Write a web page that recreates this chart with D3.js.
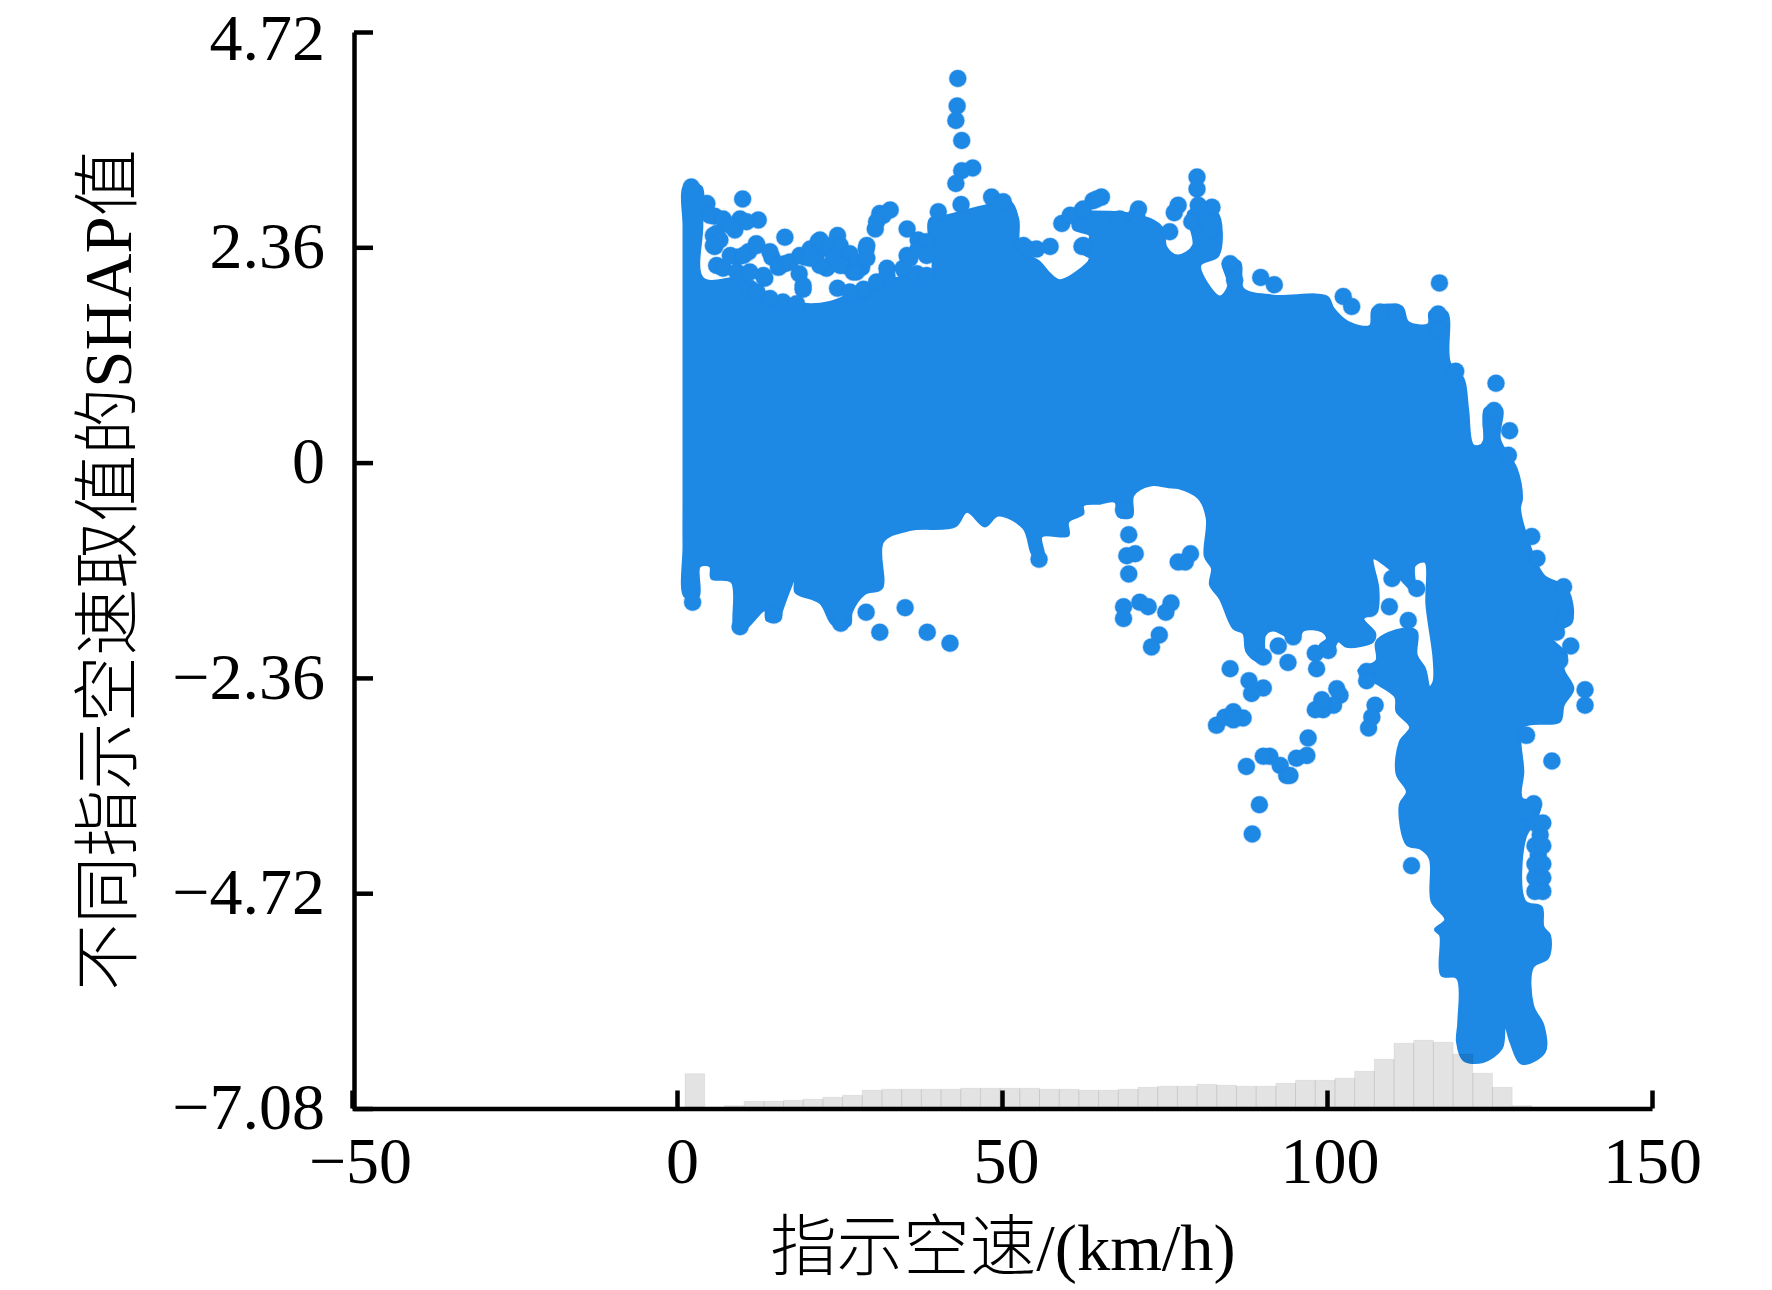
<!DOCTYPE html>
<html>
<head>
<meta charset="utf-8">
<script src="https://cdn.jsdelivr.net/npm/d3@7"></script>
<style>
	html, body { margin: 0; padding: 0; background: #fff; }
	svg { display: block; }
	text { font-family: "Liberation Serif", "Noto Sans CJK SC", serif; fill: #000; }
</style>
</head>
<body>
<div id="chart"></div>
<script>
const xTicks = [-50, 0, 50, 100, 150];
const yTicks = [-7.08, -4.72, -2.36, 0, 2.36, 4.72];
const xTitle = "指示空速/(km/h)";
const yTitle = "不同指示空速取值的SHAP值";

// outline of the part of the cloud where the points merge into a solid mass
const coreSpeed = [1.0,2.4,3.8,3.9,4.0,10.2,13.3,19.4,23.5,29.2,32.3,38.9,38.9,41.5,47.6,51.2,52.5,52.8,55.8,57.4,58.9,61.5,63.5,62.5,63.5,61.0,61.2,66.6,72.8,74.8,75.3,77.0,79.4,78.7,83.0,83.3,80.5,83.5,84.8,84.0,86.6,87.1,91.7,100.0,101.0,103.3,106.6,107.1,111.5,112.5,115.6,115.8,118.4,118.9,121.0,121.7,122.5,124.0,124.3,126.9,126.6,129.2,130.0,129.7,130.7,133.3,136.9,137.6,134.3,136.9,136.4,137.9,136.4,135.8,130.2,130.2,130.0,132.8,132.3,130.5,130.5,133.0,133.3,134.3,134.0,131.7,131.7,133.3,133.5,130.0,128.2,127.4,126.9,124.0,121.0,120.0,120.2,120.0,117.6,117.4,116.6,118.2,116.1,115.8,114.3,112.3,111.2,112.3,110.7,111.2,112.8,110.7,110.5,107.1,104.8,107.6,107.6,111.7,113.8,113.8,115.1,115.8,116.4,116.4,115.3,115.1,113.5,113.5,111.2,109.2,107.1,107.9,107.6,105.6,107.4,107.1,103.0,101.7,100.5,98.9,100.0,99.2,96.4,95.3,93.8,91.7,90.5,90.2,89.2,87.6,87.1,85.6,83.5,82.0,82.3,81.2,81.5,80.2,77.1,75.6,72.8,70.2,70.0,67.9,67.4,65.1,62.5,62.5,60.2,60.2,56.1,56.4,54.8,53.3,49.4,47.4,44.6,42.8,35.8,31.7,31.5,28.9,26.9,26.6,24.0,22.0,18.2,18.2,16.1,15.8,13.8,13.5,10.2,8.9,8.4,5.3,5.1,3.5,3.3,1.2,1.0,1.0,1.0,1.0,1.0,1.0];
const coreShap = [3.02,3.05,3.02,2.6,2.02,2.02,1.87,1.74,1.76,1.93,2.02,2.05,2.67,2.71,2.82,2.86,2.67,2.34,2.20,2.07,2.00,2.09,2.24,2.29,2.49,2.56,2.71,2.75,2.67,2.56,2.36,2.27,2.38,2.75,2.75,2.27,2.16,1.82,1.94,2.20,2.20,1.91,1.83,1.82,1.69,1.54,1.50,1.69,1.71,1.54,1.52,1.65,1.65,1.10,0.92,0.59,0.19,0.21,0.59,0.59,0.26,-0.07,-0.39,-0.50,-0.80,-1.23,-1.38,-1.75,-1.89,-2.11,-2.26,-2.48,-2.66,-2.84,-2.90,-3.39,-3.68,-3.72,-3.90,-4.12,-4.81,-4.87,-5.09,-5.18,-5.43,-5.53,-5.95,-6.17,-6.46,-6.59,-6.35,-6.17,-6.42,-6.57,-6.55,-6.35,-6.13,-5.65,-5.62,-5.18,-5.12,-5.01,-4.81,-4.34,-4.23,-4.19,-3.75,-3.61,-3.41,-3.06,-2.90,-2.73,-2.57,-2.40,-2.28,-2.17,-1.96,-1.82,-1.85,-2.11,-2.26,-2.46,-2.40,-2.15,-1.56,-1.09,-1.13,-1.42,-1.27,-1.14,-1.05,-1.38,-1.64,-1.71,-1.87,-1.96,-2.02,-1.96,-2.11,-2.00,-1.93,-1.85,-1.84,-1.98,-1.91,-1.84,-1.89,-2.20,-2.18,-2.07,-1.87,-1.82,-1.49,-1.34,-1.16,-1.03,-0.61,-0.39,-0.28,-0.27,-0.25,-0.36,-0.59,-0.59,-0.43,-0.45,-0.47,-0.56,-0.65,-0.80,-0.81,-1.02,-1.02,-0.72,-0.58,-0.70,-0.54,-0.70,-0.74,-0.87,-1.38,-1.44,-1.64,-1.78,-1.78,-1.54,-1.42,-1.27,-1.64,-1.73,-1.73,-1.62,-1.84,-1.84,-1.31,-1.27,-1.14,-1.14,-1.47,-1.47,-0.91,-0.4,0.3,1.2,2.0,2.6];

// single points readable along the edge of the cloud
const pointSpeed = [43.2,43.1,42.9,43.8,45.5,43.8,42.9,43.7,10.1,4.6,5.8,9.7,12.5,8.9,6.1,16.6,32.8,31.2,30.5,24.7,21.7,29.1,12.2,11.0,9.2,5.8,14.6,16.6,15.6,19.7,21.5,23.5,26.1,23.0,25.8,28.4,27.1,18.8,19.4,24.7,13.5,32.3,35.1,37.6,35.4,35.4,40.2,48.4,50.2,65.3,64.0,71.0,59.2,62.3,57.4,54.0,62.3,28.4,6.1,7.1,9.2,2.2,
	5.1,7.1,8.2,10.7,5.6,6.6,5.6,8.2,10.2,12.3,14.3,15.8,17.4,18.9,20.5,22.0,23.5,25.1,26.6,27.6,24.1,22.0,20.5,25.1,27.6,29.2,29.2,31.7,30.7,19.4,32.3,34.8,36.9,38.4,37.1,37.1,38.4,38.4,35.8,55.3,53.3,62.5,60.5,62.5,68.1,70.7,64.6,
	11.2,13.3,11.2,26.6,28.7,30.7,16.3,14.3,12.3,18.4,
	80.0,80.0,77.1,76.5,82.3,80.2,82.0,79.2,75.8,89.8,91.9,85.1,85.8,102.5,103.8,108.2,110.5,117.3,117.1,117.1,119.8,126.0,125.7,125.3,128.1,127.9,125.1,
	2.4,9.7,14.9,25.2,29.1,35.1,31.2,38.5,42.0,55.7,68.7,69.5,69.2,70.5,69.5,68.7,68.7,71.2,72.5,76.0,75.2,74.2,73.0,79.0,77.1,78.2,85.1,88.0,90.2,88.4,92.5,94.0,98.4,98.2,100.2,101.5,102.0,101.0,99.4,98.2,99.2,107.4,106.9,106.4,83.0,84.3,85.6,87.1,85.6,87.6,91.2,90.2,92.8,93.8,95.3,96.9,97.1,94.3,
	134.6,131.5,132.3,136.4,136.6,135.3,137.5,135.8,139.7,139.7,109.6,112.5,110.0,113.8,106.6,94.8,90.2,106.1,106.1,130.7,89.6,88.5,113.0,132.8,132.5,132.4,132.8,131.8,130.5,132.0,133.2,132.0,133.2,132.0,133.2,132.0,133.2,132.0,133.2];
const pointShap = [4.21,3.91,3.75,3.53,3.23,3.20,3.06,2.83,2.89,2.84,2.70,2.67,2.66,2.55,2.51,2.47,2.77,2.73,2.56,2.49,2.42,2.34,2.40,2.31,2.25,2.37,2.25,2.18,2.14,2.25,2.29,2.34,2.27,2.13,2.16,2.14,2.09,2.07,1.90,1.91,2.02,2.05,2.09,2.02,2.56,2.27,2.75,2.91,2.86,2.91,2.87,2.78,2.62,2.76,2.37,2.34,2.37,1.87,2.16,2.13,2.09,3.02,
	2.71,2.67,2.60,2.64,2.49,2.44,2.38,2.27,2.27,2.38,2.31,2.16,2.20,2.27,2.34,2.44,2.38,2.38,2.29,2.20,2.24,2.16,2.24,2.16,2.09,2.24,2.38,2.71,2.64,1.94,2.13,2.13,2.07,2.05,2.44,2.34,2.42,2.27,2.24,2.34,2.38,2.38,2.71,2.78,2.67,2.71,2.89,
	1.91,2.05,2.09,1.87,1.90,1.98,1.76,1.80,1.87,1.74,
	3.13,3.00,2.82,2.74,2.80,2.82,2.55,2.64,2.53,2.03,1.95,2.18,2.00,1.82,1.71,1.65,1.65,1.97,1.63,1.47,1.00,0.87,0.57,0.41,0.35,0.08,0.19,
	-1.53,-1.80,-1.67,-1.76,-1.64,-1.59,-1.86,-1.86,-1.98,-1.06,-0.52,-0.79,-1.02,-1.00,-1.22,-1.58,-1.71,-1.53,-1.58,-1.54,-1.64,-1.89,-2.02,-1.00,-1.09,-1.09,-2.26,-2.39,-2.47,-2.53,-2.01,-2.19,-2.26,-2.09,-2.06,-2.48,-2.55,-2.66,-2.71,-2.71,-2.60,-2.66,-2.79,-2.91,-2.88,-2.79,-2.73,-2.80,-2.82,-3.33,-3.22,-3.22,-3.32,-3.43,-3.24,-3.21,-3.02,-3.43,
	-3.27,-0.81,-1.05,-1.36,-1.71,-1.86,-2.01,-2.17,-2.49,-2.66,-1.58,-1.73,-1.27,-1.38,-1.60,-1.91,-2.13,-2.29,-2.39,-2.99,-3.75,-4.07,-4.42,-4.08,-4.30,-4.48,-4.65,-3.74,-3.83,-4.20,-4.20,-4.55,-4.55,-3.95,-3.95,-4.40,-4.40,-4.70,-4.70];

// histogram of the speed along the bottom, relative counts
const histStart = 1.23, histStep = 3.03;
const histCounts = [33.3,0,1.3,5.7,5.7,6.7,7.7,9.7,11.7,16.7,17.7,17.7,17.7,17.7,18.7,18.7,18.7,18.7,17.7,17.7,16.7,16.7,17.7,19.7,20.7,20.7,22.7,21.7,20.7,20.7,23.7,26.7,26.7,28.7,35.7,47.7,63.7,66.7,64.7,52.7,33.7,19.7,1.3];

const width = 1772, height = 1290, blue = "#1E88E5", fontSize = 66;

const x = d3.scaleLinear().domain([-50, 150]).range([352, 1652]);
const y = d3.scaleLinear().domain([-7.08, 4.72]).range([1108.5, 32]);
const histY = d3.scaleLinear().domain([0, 100]).range([1107, 1007]);

const svg = d3.select("#chart").append("svg").attr("width", width).attr("height", height);

// solid mass, then the loose points on top of it
const core = d3.line().curve(d3.curveCatmullRomClosed.alpha(0.5)).x(d => x(d[0])).y(d => y(d[1]));
svg.append("path")
	.attr("d", core(d3.zip(coreSpeed, coreShap)))
	.attr("fill", blue).attr("stroke", blue).attr("stroke-width", 2).attr("stroke-linejoin", "round");

svg.append("g").selectAll("circle")
	.data(d3.zip(pointSpeed, pointShap))
	.join("circle")
	.attr("cx", d => x(d[0])).attr("cy", d => y(d[1])).attr("r", 8.5)
	.attr("fill", blue)
	.attr("stroke", blue).attr("stroke-opacity", 0.35).attr("stroke-width", 1.5);

// the bars sit over the points, the overlap shows darker
svg.append("g").selectAll("rect")
	.data(histCounts.map((c, i) => ({c, i})).filter(d => d.c > 0))
	.join("rect")
	.attr("x", d => x(histStart + d.i * histStep))
	.attr("width", x(histStep) - x(0))
	.attr("y", d => histY(d.c))
	.attr("height", d => histY(0) - histY(d.c))
	.attr("fill", "#000").attr("fill-opacity", 0.11)
	.attr("stroke", "#000").attr("stroke-opacity", 0.06).attr("stroke-width", 1);

const fmt = v => String(v).replace("-", "\u2212");

// small label shifts seen in the original
const xLabelShift = new Map([[-50, 8], [0, 5], [50, 4], [100, 2.5], [150, 0]]);

const xAxis = svg.append("g").attr("transform", "translate(0,1108.5)")
	.call(d3.axisBottom(x).tickValues(xTicks).tickFormat(fmt).tickSizeInner(-18).tickSizeOuter(0).tickPadding(28));
xAxis.selectAll("text").attr("dx", d => xLabelShift.get(d));

const yAxis = svg.append("g").attr("transform", "translate(354,0)")
	.call(d3.axisLeft(y).tickValues(yTicks).tickFormat(fmt).tickSizeInner(-19).tickSizeOuter(0).tickPadding(29));
yAxis.selectAll("text").attr("dy", d => d === 4.72 ? "0.41em" : "0.305em");

svg.selectAll(".domain, .tick line").attr("stroke", "#000").attr("stroke-width", 4.5);
svg.selectAll(".tick text").attr("font-size", fontSize).attr("fill", "#000")
	.style("font-family", '"Liberation Serif", serif');

svg.append("text")
	.attr("x", 1003).attr("y", 1270)
	.attr("text-anchor", "middle").attr("font-size", 66.5).attr("font-weight", 300)
	.text(xTitle);

svg.append("text")
	.attr("transform", "translate(131,570) rotate(-90)")
	.attr("text-anchor", "middle").attr("font-size", 67).attr("font-weight", 300)
	.text(yTitle);
</script>
</body>
</html>
